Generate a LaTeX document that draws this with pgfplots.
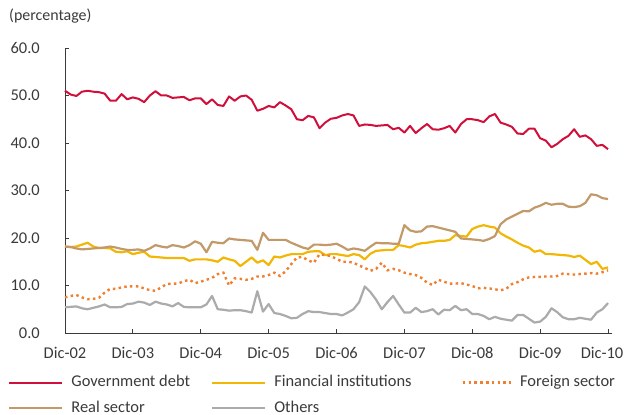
\documentclass[border=0pt]{standalone}
\usepackage{pgfplots}
\usepackage{pgfplotstable}
\pgfplotsset{compat=1.18}
\usepackage{fontspec}
\setmainfont{Carlito}
\definecolor{cgov}{HTML}{D0103A}
\definecolor{cfin}{HTML}{F2B705}
\definecolor{cfor}{HTML}{F08030}
\definecolor{creal}{HTML}{C29A6A}
\definecolor{coth}{HTML}{ABABAB}
\definecolor{ctext}{HTML}{3A3A3A}
\pgfplotsset{shortleg/.style={legend image code/.code={\draw[##1] (0bp,0bp) -- (48bp,0bp);}}}
\pgfplotstableread{
m gov fin for real oth
0 51.0 18.2 7.5 18.2 5.4
1 50.2 18.1 7.8 18.1 5.5
2 49.9 18.2 8.0 17.8 5.6
3 50.8 18.6 7.5 17.6 5.2
4 51.0 19.0 7.1 17.7 5.0
5 50.8 18.2 7.2 17.8 5.3
6 50.7 17.9 7.4 17.9 5.6
7 50.4 17.9 8.5 18.0 6.0
8 48.9 17.8 9.3 18.2 5.4
9 48.9 17.1 9.3 18.0 5.4
10 50.3 17.0 9.6 17.7 5.5
11 49.2 17.2 9.8 17.5 6.1
12 49.6 16.6 9.8 17.5 6.2
13 49.3 16.9 9.8 17.6 6.6
14 48.6 17.1 9.4 17.3 6.4
15 50.0 16.1 9.0 17.8 5.9
16 50.9 16.0 8.9 18.5 6.6
17 50.0 15.9 9.6 18.2 6.2
18 50.0 15.8 10.3 18.0 6.0
19 49.5 15.8 10.4 18.5 5.6
20 49.6 15.8 10.4 18.3 6.3
21 49.7 15.8 10.9 18.0 5.5
22 49.0 15.2 11.2 18.5 5.4
23 49.4 15.5 10.5 19.3 5.4
24 49.4 15.5 10.8 18.8 5.4
25 48.2 15.5 11.2 17.0 6.0
26 49.2 15.3 11.6 19.2 7.8
27 48.0 15.0 12.4 19.0 5.0
28 47.8 15.9 12.7 18.9 4.9
29 49.8 15.5 10.0 19.9 4.7
30 48.9 15.2 11.5 19.7 4.8
31 49.8 14.1 11.4 19.6 4.8
32 50.0 15.0 11.2 19.5 4.6
33 49.1 15.9 11.4 19.4 4.3
34 46.8 14.8 11.9 17.5 8.8
35 47.2 15.3 11.9 21.1 4.5
36 47.8 14.3 12.2 19.6 6.1
37 47.5 16.1 12.7 19.6 4.2
38 48.6 15.9 12.0 19.6 4.0
39 47.9 16.3 13.0 19.6 3.6
40 47.1 16.6 14.5 19.0 3.1
41 45.0 16.6 15.9 18.5 3.2
42 44.8 16.6 16.0 18.0 4.0
43 45.7 17.1 15.3 17.7 4.6
44 45.4 17.2 14.8 18.6 4.4
45 43.1 17.2 16.6 18.6 4.4
46 44.3 16.4 16.4 18.5 4.2
47 45.1 16.6 16.2 18.6 4.0
48 45.3 16.6 15.6 18.8 4.0
49 45.8 16.4 15.0 18.2 3.7
50 46.1 16.2 15.0 17.5 4.3
51 45.8 16.6 14.8 17.8 5.0
52 43.6 16.4 14.2 17.6 6.5
53 43.9 15.5 13.7 17.3 9.8
54 43.8 16.7 13.1 18.2 8.6
55 43.6 17.3 13.5 19.0 7.0
56 43.7 17.4 14.8 18.9 5.0
57 43.8 17.5 13.2 18.9 6.5
58 42.9 17.5 13.5 18.8 7.8
59 43.2 18.5 13.2 18.8 6.0
60 42.2 18.3 12.7 22.7 4.3
61 43.6 18.0 12.4 21.6 4.3
62 42.1 18.6 12.2 21.3 5.3
63 43.1 18.9 11.6 21.4 4.4
64 44.0 19.0 10.6 22.4 4.6
65 42.9 19.2 10.1 22.5 5.0
66 42.8 19.4 11.2 22.2 3.9
67 43.1 19.4 10.8 21.9 4.9
68 43.6 19.6 10.4 21.6 4.8
69 42.2 20.6 10.4 21.3 5.7
70 44.0 20.4 10.5 19.9 4.8
71 45.0 20.3 10.2 19.8 5.0
72 45.0 21.9 9.9 19.7 4.0
73 44.8 22.4 9.4 19.6 4.0
74 44.4 22.7 9.5 19.4 3.6
75 45.6 22.4 9.4 19.8 2.9
76 46.1 22.2 9.2 20.4 3.4
77 44.3 21.0 9.0 22.9 3.0
78 43.9 20.3 9.3 23.9 2.8
79 43.4 19.7 10.3 24.5 2.6
80 42.0 19.0 10.7 25.1 3.8
81 41.9 18.4 11.3 25.7 3.8
82 43.0 18.0 11.7 25.6 3.0
83 43.0 17.1 11.8 26.4 2.2
84 41.0 17.4 11.8 26.8 2.4
85 40.5 16.6 11.9 27.4 3.4
86 39.1 16.6 11.9 27.0 5.2
87 39.8 16.5 12.0 27.2 4.4
88 40.8 16.4 12.5 27.2 3.3
89 41.5 16.3 12.4 26.6 2.9
90 42.9 16.0 12.3 26.5 2.9
91 41.3 16.3 12.4 26.7 3.2
92 41.6 15.4 12.5 27.4 3.0
93 40.8 14.5 12.6 29.2 2.8
94 39.4 15.0 12.5 29.0 4.3
95 39.6 13.5 12.8 28.4 5.0
96 38.7 13.8 13.2 28.2 6.3
}\datatable
\begin{document}
\begin{tikzpicture}
\begin{axis}[
  at={(65bp,82bp)}, anchor=south west,
  scale only axis, width=547bp, height=285bp,
  xmin=0, xmax=96.7, ymin=0, ymax=60,
  axis x line*=bottom, axis y line*=left,
  axis line style={color=ctext, line width=1bp, -},
  xtick={0,12,...,96},
  xticklabels={Dic-02,Dic-03,Dic-04,Dic-05,Dic-06,Dic-07,Dic-08,Dic-09,\hspace{-12bp}Dic-10},
  ytick={0,10,...,60},
  tick align=inside, major tick length=4bp,
  tick style={color=ctext, line width=0.8bp},
  /pgf/number format/assume math mode=true,
  yticklabel={\pgfmathprintnumber[fixed,fixed zerofill,precision=1]{\tick}},
  every tick label/.append style={font=\fontsize{16.5}{19}\selectfont, text=ctext, inner sep=0pt},
  yticklabel style={xshift=-25bp},
  xticklabel style={yshift=-14bp},
  legend columns=3,
  legend cell align=left,
  legend image code/.code={\draw[#1] (0bp,0bp) -- (53bp,0bp);},
  legend style={at={(axis description cs:-0.1042,-0.1456)}, anchor=north west,
    draw=none, fill=none, inner sep=0pt, row sep=9.5bp,
    font=\fontsize{16.5}{19}\selectfont, text=ctext,
    nodes={inner sep=0pt, text height=12bp, text depth=4bp},
    /tikz/every odd column/.append style={column sep=8bp},
    /tikz/column 2/.append style={column sep=21bp},
    /tikz/column 4/.append style={column sep=50bp}},
  clip=false,
]
\addplot[cgov, line width=2bp, line join=round] table[x=m, y=gov] {\datatable};
\addlegendentry{Government debt}
\addplot[cfin, line width=2.2bp, line join=round] table[x=m, y=fin] {\datatable};
\addlegendentry{Financial institutions}
\addplot[cfor, line width=2.4bp, dash pattern=on 2.5bp off 3.3bp, shortleg] table[x=m, y=for] {\datatable};
\addlegendentry{Foreign sector}
\addplot[creal, line width=2.2bp, line join=round] table[x=m, y=real] {\datatable};
\addlegendentry{Real sector}
\addplot[coth, line width=2.2bp, line join=round] table[x=m, y=oth] {\datatable};
\addlegendentry{Others}
\node[anchor=base west, text=ctext, font=\fontsize{16}{19}\selectfont, inner sep=0pt]
  at (rel axis cs:0,1) [xshift=-56bp, yshift=27bp] {(percentage)};
\end{axis}
\pgfresetboundingbox
\useasboundingbox (0,0) rectangle (627bp,415bp);
\end{tikzpicture}
\end{document}
